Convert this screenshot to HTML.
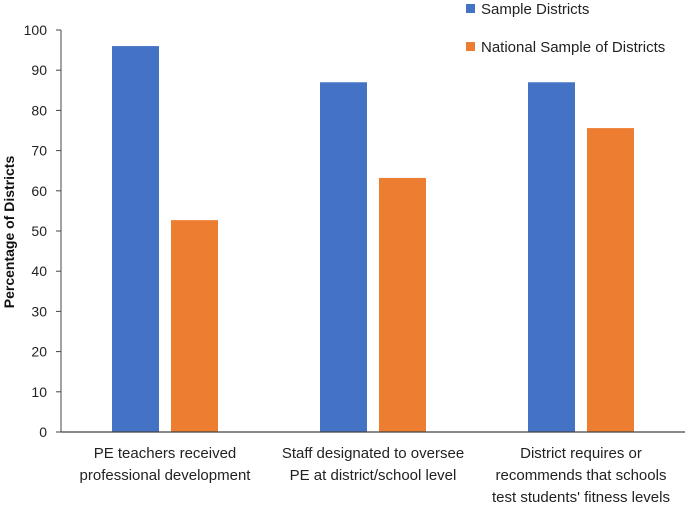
<!DOCTYPE html>
<html><head><meta charset="utf-8"><style>
body{margin:0;background:#fff;}
svg{display:block;font-family:"Liberation Sans",Arial,sans-serif;}
</style></head><body>
<svg id="c" width="685" height="505"></svg>
<script>
const categories=[["PE teachers received","professional development"],["Staff designated to oversee","PE at district/school level"],["District requires or","recommends that schools","test students' fitness levels"]];
const sampleValues=[96,87,87];
const nationalValues=[52.7,63.2,75.6];
const yTicks=[0,10,20,30,40,50,60,70,80,90,100];
const seriesNames=["Sample Districts","National Sample of Districts"];
const NS="http://www.w3.org/2000/svg";
const svg=document.getElementById('c');
const x0=61,x1=685,yBase=432,yTop=30;
const y=v=>yBase-(yBase-yTop)*v/100;
const catW=(x1-x0)/categories.length;
const cx=i=>x0+catW*(i+0.5);
function mk(t,a,txt){const e=document.createElementNS(NS,t);for(const k in a)e.setAttribute(k,a[k]);if(txt!=null)e.textContent=txt;svg.appendChild(e);return e;}
let e;
e=mk('line',{x1:x0,y1:yTop,x2:x0,y2:yBase,stroke:'#444','stroke-width':1});


yTicks.forEach(t=>{
 e=mk('line',{x1:x0-5,y1:y(t),x2:x0,y2:y(t),stroke:'#444'});
 
 
 e=mk('text',{x:x0-14,y:y(t)+5,'text-anchor':'end','font-size':14,fill:'#222'},t);
 
 
});
const bw=47,gap=12;
categories.forEach((c,i)=>{
 e=mk('rect',{x:cx(i)-gap/2-bw,y:y(sampleValues[i]),width:bw,height:yBase-y(sampleValues[i]),fill:'#4472c4'});
 
 
 e=mk('rect',{x:cx(i)+gap/2,y:y(nationalValues[i]),width:bw,height:yBase-y(nationalValues[i]),fill:'#ed7d31'});
 
 
 c.forEach((l,j)=>{
  e=mk('text',{x:cx(i),y:458+j*22,'text-anchor':'middle','font-size':15,fill:'#222'},l);
  
  
 });
});
e=mk('line',{x1:x0,y1:yBase,x2:x1,y2:yBase,stroke:'#444','stroke-width':1.2});


e=mk('text',{x:0,y:0,transform:'translate(14,232) rotate(-90)','text-anchor':'middle','font-size':14,'font-weight':'bold',fill:'#111'},'Percentage of Districts');


const cols=['#4472c4','#ed7d31'];
seriesNames.forEach((n,i)=>{
 const ly=4+i*38;
 e=mk('rect',{x:466,y:ly,width:9,height:9,fill:cols[i]});
 
 
 e=mk('text',{x:481,y:ly+10,'font-size':15,fill:'#222'},n);
 
 
});
</script>
</body></html>
